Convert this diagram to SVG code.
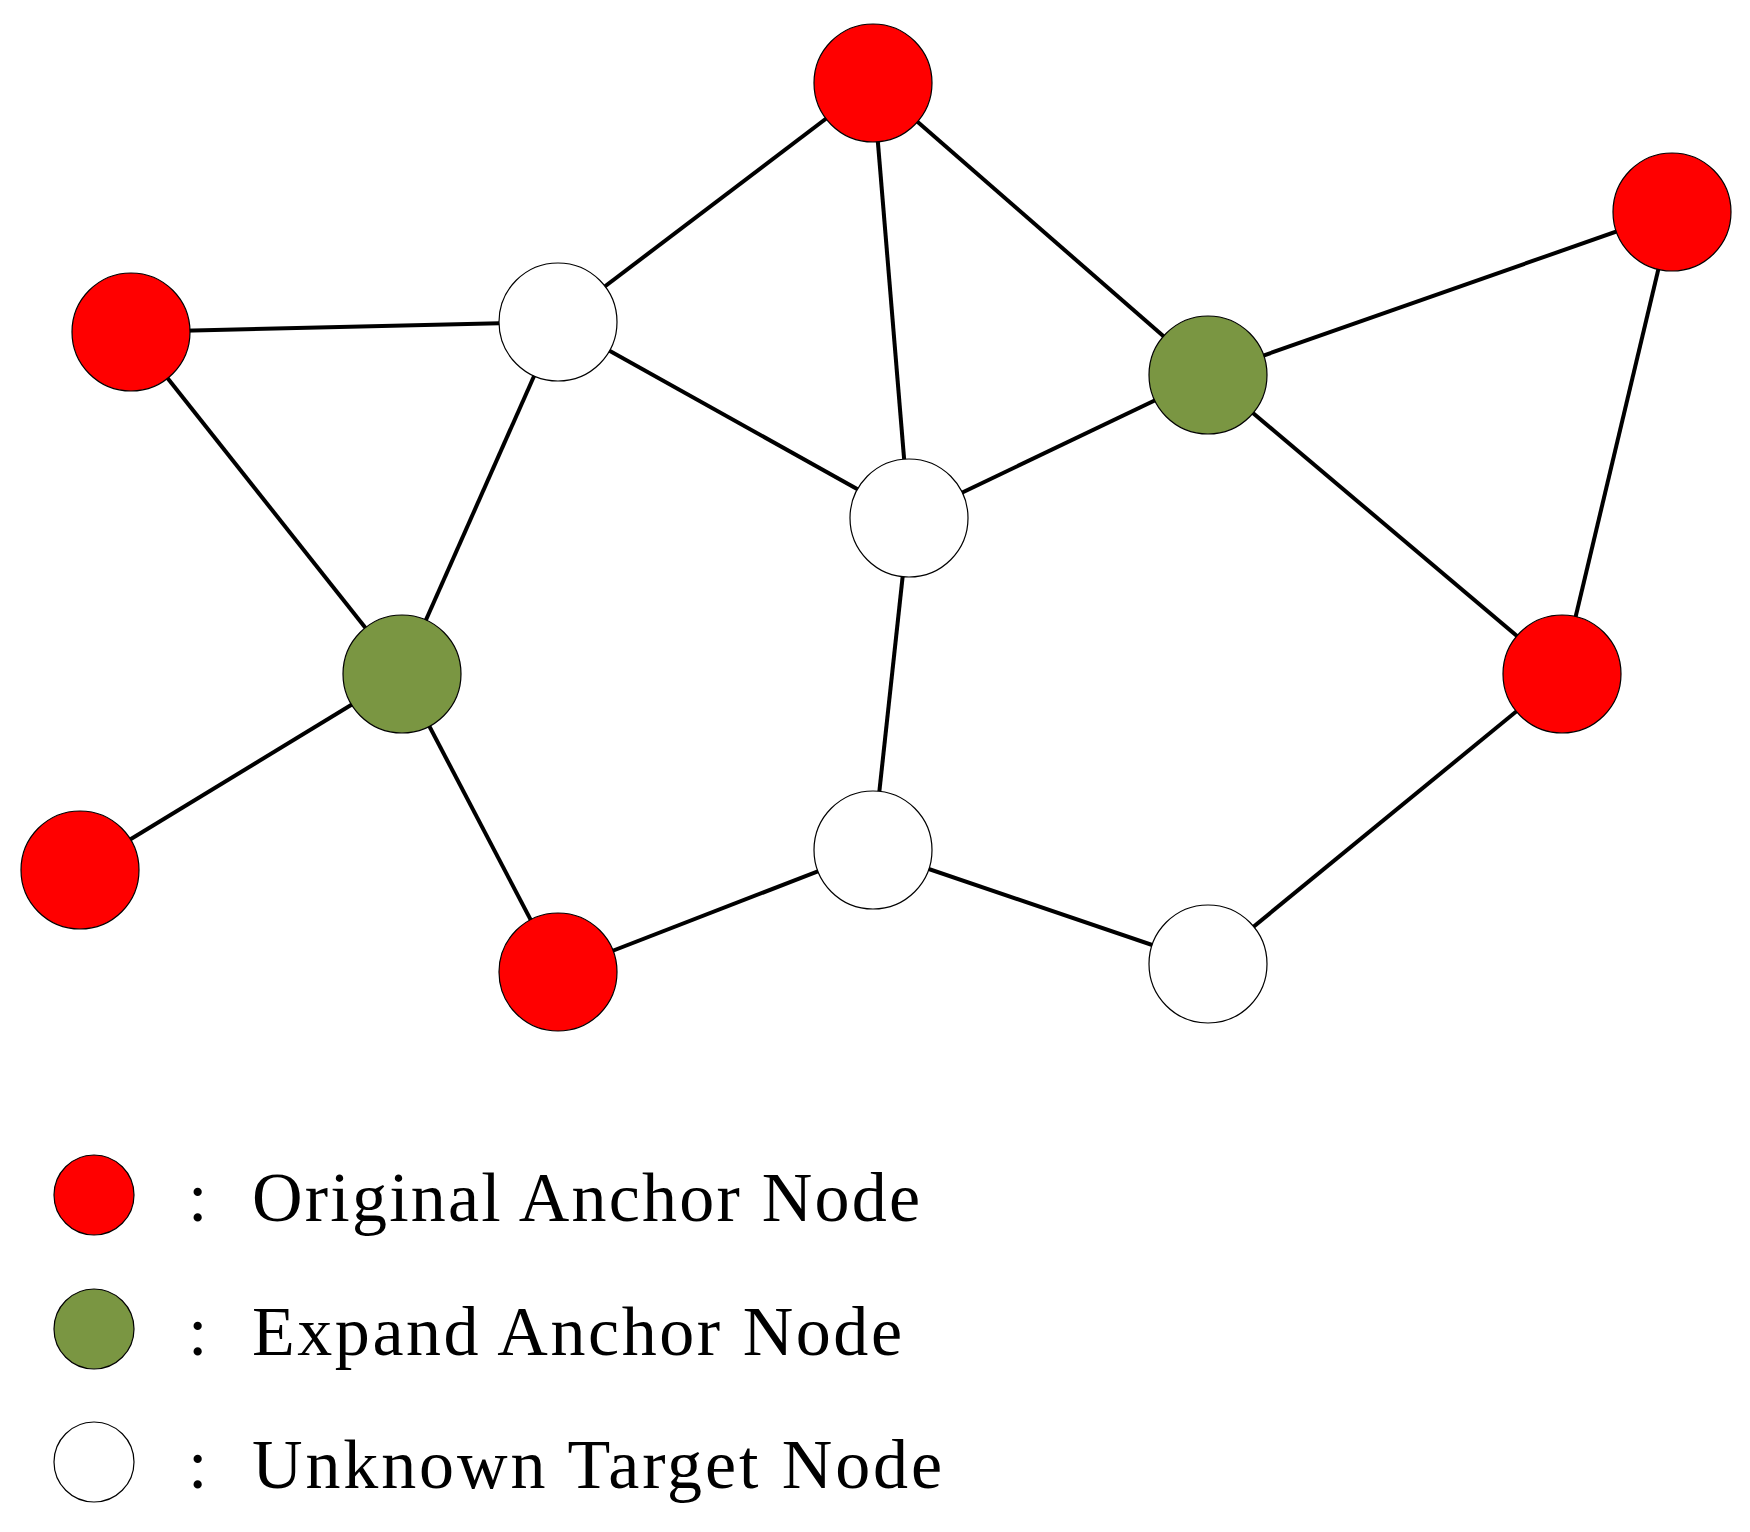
<svg xmlns="http://www.w3.org/2000/svg" width="1750" height="1532" viewBox="0 0 1750 1532">
<style>
.e{stroke:#000;stroke-width:4;fill:none}
.n{stroke:#000;stroke-width:1.2}
.r{fill:#ff0000}.g{fill:#7a9642}.w{fill:#fff}
.t{font-family:"Liberation Serif",serif;font-size:70px;fill:#000}
</style>
<rect width="1750" height="1532" fill="#fff"/>
<g id="edges">
<line class="e" x1="873" y1="83" x2="558" y2="322"/>
<line class="e" x1="873" y1="83" x2="909" y2="518"/>
<line class="e" x1="873" y1="83" x2="1208" y2="375"/>
<line class="e" x1="131" y1="332" x2="558" y2="322"/>
<line class="e" x1="131" y1="332" x2="402" y2="674"/>
<line class="e" x1="558" y1="322" x2="402" y2="674"/>
<line class="e" x1="558" y1="322" x2="909" y2="518"/>
<line class="e" x1="1208" y1="375" x2="1672" y2="212"/>
<line class="e" x1="1208" y1="375" x2="909" y2="518"/>
<line class="e" x1="1208" y1="375" x2="1562" y2="674"/>
<line class="e" x1="1672" y1="212" x2="1562" y2="674"/>
<line class="e" x1="402" y1="674" x2="80" y2="870"/>
<line class="e" x1="402" y1="674" x2="558" y2="972"/>
<line class="e" x1="909" y1="518" x2="873" y2="850"/>
<line class="e" x1="873" y1="850" x2="558" y2="972"/>
<line class="e" x1="873" y1="850" x2="1208" y2="964"/>
<line class="e" x1="1208" y1="964" x2="1562" y2="674"/>
</g>
<g id="n1"><circle class="n r" cx="873" cy="83" r="59"/></g>
<g id="n2"><circle class="n r" cx="1672" cy="212" r="59"/></g>
<g id="n3"><circle class="n r" cx="131" cy="332" r="59"/></g>
<g id="n4"><circle class="n w" cx="558" cy="322" r="59"/></g>
<g id="n5"><circle class="n g" cx="1208" cy="375" r="59"/></g>
<g id="n6"><circle class="n w" cx="909" cy="518" r="59"/></g>
<g id="n7"><circle class="n g" cx="402" cy="674" r="59"/></g>
<g id="n8"><circle class="n r" cx="1562" cy="674" r="59"/></g>
<g id="n9"><circle class="n r" cx="80" cy="870" r="59"/></g>
<g id="n10"><circle class="n w" cx="873" cy="850" r="59"/></g>
<g id="n11"><circle class="n r" cx="558" cy="972" r="59"/></g>
<g id="n12"><circle class="n w" cx="1208" cy="964" r="59"/></g>
<g id="legend">
<circle class="n r" cx="94" cy="1195" r="40"/>
<text class="t" x="188" y="1221">:</text>
<text class="t" x="252" y="1221" textLength="668">Original Anchor Node</text>
<circle class="n g" cx="94" cy="1329" r="40"/>
<text class="t" x="188" y="1355">:</text>
<text class="t" x="252" y="1355" textLength="650">Expand Anchor Node</text>
<circle class="n w" cx="94" cy="1462" r="40"/>
<text class="t" x="188" y="1488">:</text>
<text class="t" x="252" y="1488" textLength="690">Unknown Target Node</text>
</g>
</svg>
